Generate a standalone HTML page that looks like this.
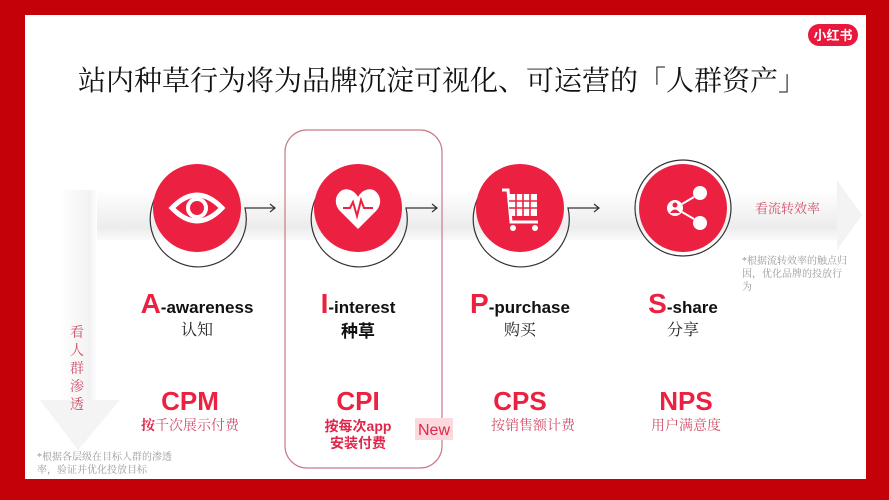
<!DOCTYPE html>
<html><head><meta charset="utf-8"><style>
body{margin:0;width:889px;height:500px;overflow:hidden;background:#c40008}
svg{display:block}
.t{font-family:"Liberation Sans","Noto Sans CJK SC",sans-serif}
.s{font-family:"Liberation Serif","Noto Serif CJK SC",serif}
</style></head><body>
<svg width="889" height="500" viewBox="0 0 889 500" xmlns="http://www.w3.org/2000/svg">
<defs>
<linearGradient id="hb" x1="0" y1="0" x2="0" y2="1">
<stop offset="0" stop-color="#fff"/><stop offset="0.75" stop-color="#ececec"/><stop offset="1" stop-color="#fafafa"/>
</linearGradient>
<linearGradient id="vb" x1="0" y1="0" x2="1" y2="0">
<stop offset="0" stop-color="#fff"/><stop offset="0.8" stop-color="#f2f2f2"/><stop offset="1" stop-color="#fff"/>
</linearGradient>
</defs>
<rect x="25" y="15" width="841" height="464" fill="#fff"/>
<rect x="97" y="190" width="740" height="50" fill="url(#hb)"/>
<polygon points="837,180 862,215 837,250" fill="#f3f3f3"/>
<rect x="60" y="190" width="37" height="210" fill="url(#vb)"/>
<polygon points="40,400 120,400 78,450" fill="#f4f4f4"/>
<text class="s" x="442" y="90" font-size="28" text-anchor="middle" fill="#111">站内种草行为将为品牌沉淀可视化、可运营的「人群资产」</text>
<rect x="808" y="24" width="50" height="22" rx="11" fill="#e8193c"/>
<text class="t" x="833" y="40" font-size="13" font-weight="bold" text-anchor="middle" fill="#fff">小红书</text>
<rect x="285" y="130" width="157" height="338" rx="22" fill="none" stroke="#c97a86" stroke-width="1.2"/>
<g stroke="#333" stroke-width="1.2" fill="none">
<path d="M170 180 A48 48 0 1 0 245 208 L275 208 M270 204 L275 208 L270 212"/>
<path d="M331 180 A48 48 0 1 0 406 208 L437 208 M432 204 L437 208 L432 212"/>
<path d="M493 180 A48 48 0 1 0 568 208 L599 208 M594 204 L599 208 L594 212"/>
<circle cx="683" cy="208" r="48"/>
</g>
<g fill="#ec2040">
<circle cx="197" cy="208" r="44"/><circle cx="358" cy="208" r="44"/><circle cx="520" cy="208" r="44"/><circle cx="683" cy="208" r="44"/>
</g>
<path d="M172 208 Q197 182 222 208 Q197 234 172 208Z" fill="none" stroke="#fff" stroke-width="5"/>
<circle cx="197" cy="208" r="9" fill="none" stroke="#fff" stroke-width="4"/>
<path d="M358 229 L340 211 C330 200 340 186 350 190 C354 191 357 195 358 197 C359 195 362 191 366 190 C376 186 386 200 376 211Z" fill="#fff"/>
<path d="M343 208 L350 208 L353 202 L357 216 L361 200 L364 208 L373 208" fill="none" stroke="#ec2040" stroke-width="2"/>
<g fill="none" stroke="#fff" stroke-width="3"><path d="M502 190 L508 190 L511 222 L538 222"/></g>
<rect x="509" y="194" width="28" height="22" fill="#fff"/>
<g stroke="#ec2040" stroke-width="1.6"><line x1="509" y1="201" x2="537" y2="201"/><line x1="509" y1="208" x2="537" y2="208"/><line x1="516" y1="194" x2="516" y2="216"/><line x1="523" y1="194" x2="523" y2="216"/><line x1="530" y1="194" x2="530" y2="216"/></g>
<circle cx="513" cy="228" r="3" fill="#fff"/><circle cx="535" cy="228" r="3" fill="#fff"/>
<circle cx="700" cy="193" r="7" fill="#fff"/><circle cx="700" cy="223" r="7" fill="#fff"/><circle cx="675" cy="208" r="8" fill="#fff"/>
<line x1="682" y1="204" x2="694" y2="197" stroke="#fff" stroke-width="2"/><line x1="682" y1="212" x2="694" y2="219" stroke="#fff" stroke-width="2"/>
<circle cx="675" cy="205" r="2.5" fill="#ec2040"/><path d="M670 213 Q675 206 680 213Z" fill="#ec2040"/>
<text class="s" x="755" y="213" font-size="13" fill="#d0506a">看流转效率</text>
<text class="s" x="742" y="264" font-size="10" fill="#999">*根据流转效率的触点归</text>
<text class="s" x="742" y="277" font-size="10" fill="#999">因，优化品牌的投放行</text>
<text class="s" x="742" y="290" font-size="10" fill="#999">为</text>
<g class="s" font-size="14" fill="#d0506a" text-anchor="middle">
<text x="77" y="337">看</text><text x="77" y="355">人</text><text x="77" y="373">群</text><text x="77" y="391">渗</text><text x="77" y="409">透</text></g>
<text class="s" x="37" y="460" font-size="10" fill="#999">*根据各层级在目标人群的渗透</text>
<text class="s" x="37" y="473" font-size="10" fill="#999">率，验证并优化投放目标</text>
<g class="t" font-weight="bold" text-anchor="middle">
<text x="197" y="313" fill="#111" font-size="17"><tspan fill="#ec2040" font-size="28">A</tspan>-awareness</text>
<text x="358" y="313" fill="#111" font-size="17"><tspan fill="#ec2040" font-size="28">I</tspan>-interest</text>
<text x="520" y="313" fill="#111" font-size="17"><tspan fill="#ec2040" font-size="28">P</tspan>-purchase</text>
<text x="683" y="313" fill="#111" font-size="17"><tspan fill="#ec2040" font-size="28">S</tspan>-share</text>
<text x="358" y="337" fill="#111" font-size="17">种草</text>
<text x="190" y="410" fill="#ec2040" font-size="26">CPM</text>
<text x="358" y="410" fill="#ec2040" font-size="26">CPI</text>
<text x="520" y="410" fill="#ec2040" font-size="26">CPS</text>
<text x="686" y="410" fill="#ec2040" font-size="26">NPS</text>
<text x="358" y="431" fill="#e0264a" font-size="14">按每次app</text>
<text x="358" y="448" fill="#e0264a" font-size="14">安装付费</text>
</g>
<g class="s" text-anchor="middle" font-size="16" fill="#222">
<text x="197" y="335">认知</text><text x="520" y="335">购买</text><text x="683" y="335">分享</text></g>
<g class="s" text-anchor="middle" font-size="14" fill="#d0506a">
<text x="190" y="430"><tspan font-weight="bold" fill="#e0264a">按</tspan>千次展示付费</text>
<text x="533" y="430">按销售额计费</text><text x="686" y="430">用户满意度</text></g>
<rect x="415" y="418" width="38" height="22" fill="#fcd9de"/>
<text class="t" x="434" y="435" font-size="16" text-anchor="middle" fill="#e0264a">New</text>
</svg>
</body></html>
